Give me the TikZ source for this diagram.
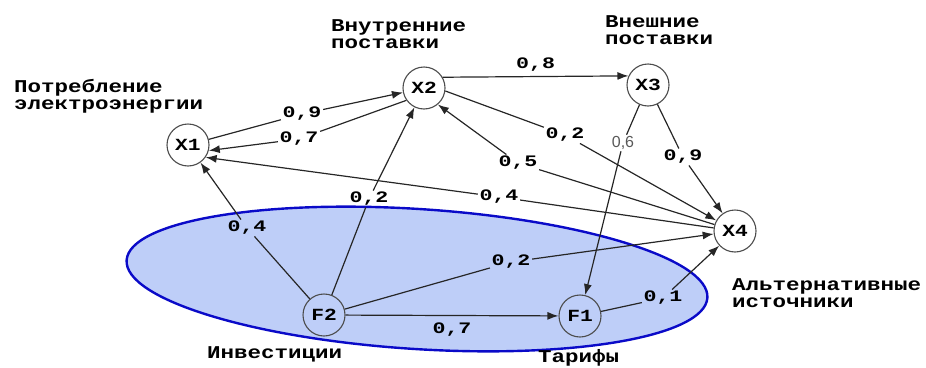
\documentclass[tikz,border=0pt]{standalone}
\usepackage{fontspec}
\newfontfamily\monofnt[FakeStretch=1.25]{Liberation Mono}
\newfontfamily\numfnt[FakeStretch=1.35]{Liberation Mono}
\newfontfamily\plainfnt{Liberation Sans}
\usetikzlibrary{arrows.meta}
\definecolor{ellfill}{RGB}{190,206,248}
\definecolor{ellline}{RGB}{10,10,200}

\begin{document}
\begin{tikzpicture}[
  x=1pt,y=-1pt,
  >={Latex[length=11pt,width=8pt]},
  factor/.style={circle,draw=black!70,line width=1.1pt,minimum size=42pt,
    inner sep=0pt,font=\monofnt\bfseries\fontsize{17}{17}\selectfont},
  weight/.style={inner sep=1.5pt,font=\numfnt\bfseries\fontsize{16}{16}\selectfont},
  descr/.style={anchor=north west,inner sep=0pt,align=left,
    font=\monofnt\bfseries\fontsize{18}{17}\selectfont},
  link/.style={->,line width=1.2pt,draw=black!85}
]
  \useasboundingbox (0,0) rectangle (926,367);
  \draw[fill=ellfill,draw=ellline,line width=2.4pt,rotate around={-3.7:(417,279)}]
    (417,279) ellipse [x radius=291pt,y radius=70pt];

  \node[factor] (x1) at (188,145) {X1};
  \node[factor] (x2) at (424,88) {X2};
  \node[factor] (x3) at (648,85) {X3};
  \node[factor] (x4) at (735,231) {X4};
  \node[factor] (f2) at (324,315) {F2};
  \node[factor] (f1) at (580,316) {F1};

  \node[descr] (consum) at (14,79) {Потребление\\электроэнергии};
  \node[descr] (inner) at (331,19) {Внутренние\\поставки};
  \node[descr] (outer) at (605,15) {Внешние\\поставки};
  \node[descr] (altern) at (732,278) {Альтернативные\\источники};
  \node[descr] (invest) at (207,346) {Инвестиции};
  \node[descr] (tariff) at (538,349) {Тарифы};

  \node[weight] (w09) at (302,114) {0,9};
  \node[weight] (w07) at (299,139) {0,7};
  \node[weight] (w02a) at (565,135) {0,2};
  \node[weight] (w05) at (518,163) {0,5};
  \node[weight] (w04a) at (499,197) {0,4};
  \node[weight] (w09b) at (683,157) {0,9};
  \node[weight,font=\plainfnt\fontsize{16}{16}\selectfont,text=black!65] (w06) at (623,143) {0,6};
  \node[weight] (w04b) at (247,228) {0,4};
  \node[weight] (w02b) at (369,199) {0,2};
  \node[weight] (w02c) at (511,262) {0,2};
  \node[weight] (w01) at (663,298) {0,1};

  \draw[link] (x1) -- (w09) -- (x2);
  \draw[link] (x2.215) -- (w07) -- (x1.-15);
  \draw[link] (x2.30) -- node[weight,above=3pt] (w08) {0,8} (x3.155);
  \draw[link] (x2.-8) -- (w02a) -- (x4);
  \draw[link] (x4) -- (w05) -- (x2.-50);
  \draw[link] (x4) -- (w04a) -- (x1.-35);
  \draw[link] (x3) -- (w09b) -- (x4);
  \draw[link] (x3) -- (w06) -- (f1);
  \draw[link] (f2) -- (w04b) -- (x1);
  \draw[link] (f2) -- (w02b) -- (x2);
  \draw[link] (f2) -- (w02c) -- (x4);
  \draw[link] (f2) -- node[weight,below=5pt] (w07b) {0,7} (f1);
  \draw[link] (f1) -- (w01) -- (x4);
\end{tikzpicture}
\end{document}
